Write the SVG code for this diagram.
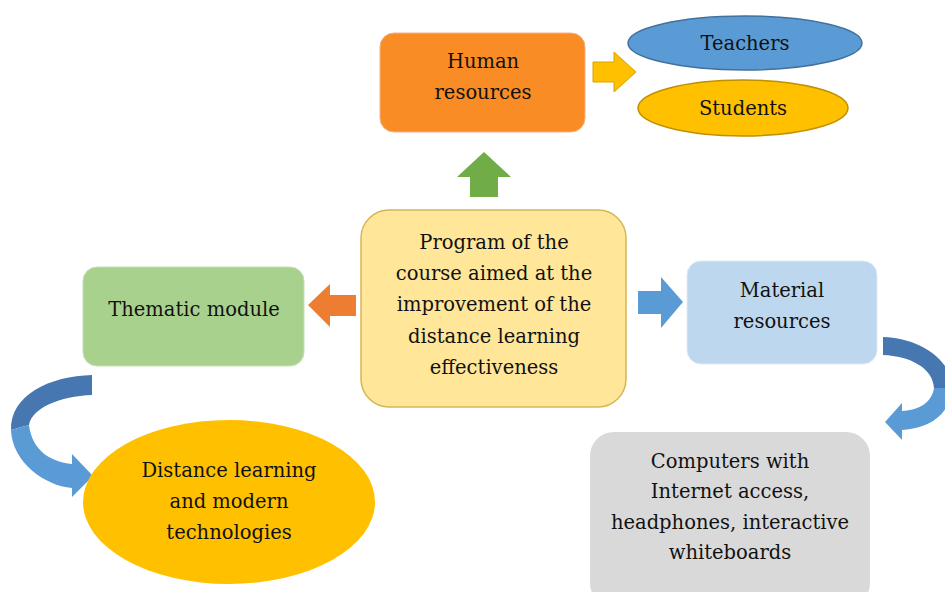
<svg xmlns="http://www.w3.org/2000/svg" width="945" height="592" viewBox="0 0 945 592">
<style>
text{font-family:"DejaVu Serif",serif;font-size:19.5px;fill:#111;text-anchor:middle}
.dk{fill:#4677B0}
.lt{fill:#5B9BD5}
</style>
<rect width="945" height="592" fill="#fff"/>
<g id="connectors">
<path d="M593,62 L614,62 L614,52 L636,72 L614,92 L614,82 L593,82 Z" fill="#FFC000" stroke="#D9A300" stroke-width="1"/>
<path d="M484,152 L511,177 L498,177 L498,197 L470,197 L470,177 L457,177 Z" fill="#70AD47"/>
<path d="M308,305 L330,284 L330,295 L356,295 L356,316 L330,316 L330,327 Z" fill="#ED7D31"/>
<path d="M683,302 L661,277 L661,291 L638,291 L638,314 L661,314 L661,328 Z" fill="#5B9BD5"/>
<path class="dk" d="M92,375 C50,376 10,395 11,430 L29,425 C32,408 60,396 92,395 Z"/>
<path class="lt" d="M11,430 C12,462 45,486 72,488 L72,497 L93,476 L72,454 L72,464 C50,462 32,450 29,425 Z"/>
<path class="dk" d="M883,337 C920,338 952,360 952,388 L934,388 C933,368 910,356 883,355 Z"/>
<path class="lt" d="M952,388 C950,415 930,428 902,430 L902,440 L885,422 L902,403 L902,411 C920,410 932,402 934,388 Z"/>
</g>
<g id="human">
<rect x="380" y="33" width="205" height="99" rx="14" fill="#F98C25" stroke="#F4B183" stroke-width="1"/>
<text x="483" y="68">Human</text>
<text x="483" y="99">resources</text>
</g>
<g id="teachers">
<ellipse cx="745" cy="43" rx="117" ry="27" fill="#5B9BD5" stroke="#41719C" stroke-width="1.5"/>
<text x="745" y="50">Teachers</text>
</g>
<g id="students">
<ellipse cx="743" cy="108" rx="105" ry="28" fill="#FFC000" stroke="#BF9000" stroke-width="1.5"/>
<text x="743" y="115">Students</text>
</g>
<g id="program">
<rect x="361" y="210" width="265" height="197" rx="28" fill="#FFE699" stroke="#D6B656" stroke-width="1.5"/>
<text x="494" y="249">Program of the</text>
<text x="494" y="280">course aimed at the</text>
<text x="494" y="311">improvement of the</text>
<text x="494" y="343">distance learning</text>
<text x="494" y="374">effectiveness</text>
</g>
<g id="thematic">
<rect x="83" y="267" width="221" height="99" rx="14" fill="#A9D18E" stroke="#C5E0B4" stroke-width="1"/>
<text x="194" y="316">Thematic module</text>
</g>
<g id="material">
<rect x="687" y="261" width="190" height="103" rx="14" fill="#BDD7EE" stroke="#DEEBF7" stroke-width="1"/>
<text x="782" y="297">Material</text>
<text x="782" y="328">resources</text>
</g>
<g id="distance">
<ellipse cx="229" cy="502" rx="146" ry="82" fill="#FFC000"/>
<text x="229" y="477">Distance learning</text>
<text x="229" y="508">and modern</text>
<text x="229" y="539">technologies</text>
</g>
<g id="computers">
<rect x="590" y="432" width="280" height="175" rx="24" fill="#D9D9D9"/>
<text x="730" y="468">Computers with</text>
<text x="730" y="498">Internet access,</text>
<text x="730" y="529">headphones, interactive</text>
<text x="730" y="559">whiteboards</text>
</g>
</svg>
